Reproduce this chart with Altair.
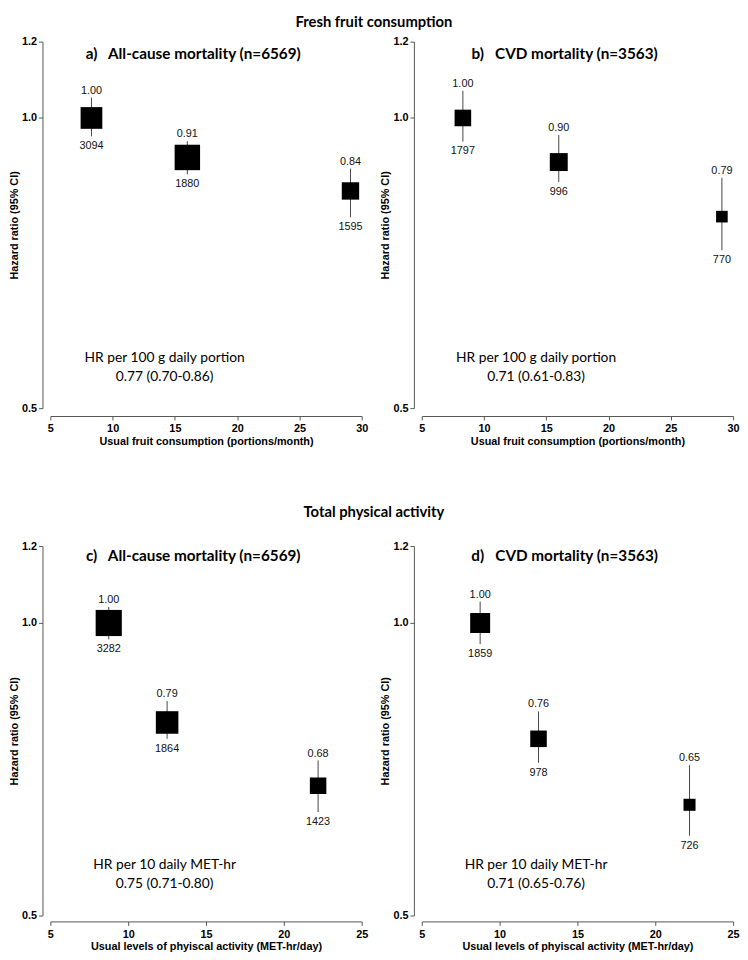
import altair as alt
import pandas as pd

# ---------------- data ----------------
fruit_levels = [8.3, 16.0, 29.1]          # usual fruit consumption (portions/month)
activity_levels = [8.75, 12.5, 22.2]      # usual physical activity (MET-hr/day)

hr_a = [1.00, 0.91, 0.84]
lo_a = [0.957, 0.874, 0.789]
hi_a = [1.050, 0.946, 0.886]
deaths_a = [3094, 1880, 1595]

hr_b = [1.00, 0.90, 0.79]
lo_b = [0.945, 0.858, 0.729]
hi_b = [1.067, 0.960, 0.867]
deaths_b = [1797, 996, 770]

hr_c = [1.00, 0.79, 0.68]
lo_c = [0.962, 0.760, 0.639]
hi_c = [1.039, 0.831, 0.722]
deaths_c = [3282, 1864, 1423]

hr_d = [1.00, 0.76, 0.65]
lo_d = [0.951, 0.718, 0.604]
hi_d = [1.052, 0.811, 0.714]
deaths_d = [1859, 978, 726]

y_ticks = [0.5, 1.0, 1.2]
fruit_ticks = [5, 10, 15, 20, 25, 30]
activity_ticks = [5, 10, 15, 20, 25]

NB = "\u00a0"
row_titles = ["Fresh fruit consumption", "Total physical activity"]
panel_titles = ["a)" + NB * 3 + "All-cause mortality (n=6569)",
                "b)" + NB * 3 + "CVD mortality (n=3563)",
                "c)" + NB * 3 + "All-cause mortality (n=6569)",
                "d)" + NB * 3 + "CVD mortality (n=3563)"]
x_titles = ["Usual fruit consumption (portions/month)",
            "Usual levels of phyiscal activity (MET-hr/day)"]
trend_a = ["HR per 100 g daily portion", "0.77 (0.70-0.86)"]
trend_b = ["HR per 100 g daily portion", "0.71 (0.61-0.83)"]
trend_c = ["HR per 10 daily MET-hr", "0.75 (0.71-0.80)"]
trend_d = ["HR per 10 daily MET-hr", "0.71 (0.65-0.76)"]

# ---------------- style ----------------
LAB = "Liberation Sans"
HEAD = "Lato"
GREY = "#555555"
W = 316


def panel(xs, hr, lo, hi, deaths, ticks, xtitle, head, trend, height, xoff, head_y):
    df = pd.DataFrame({"x": xs, "hr": hr, "lo": lo, "hi": hi, "deaths": deaths})
    xsc = alt.Scale(domain=[ticks[0], ticks[-1]], nice=False, zero=False)
    ysc = alt.Scale(type="log", domain=[0.5, 1.2], nice=False)
    xaxis = alt.Axis(values=ticks, title=xtitle, offset=xoff, tickSize=4, grid=False,
                     domainColor=GREY, tickColor=GREY, labelFont=LAB, labelFontSize=11,
                     labelFontWeight="bold", labelColor="black", labelPadding=3,
                     labelFlush=False, labelOverlap=False,
                     titleFont=LAB, titleFontSize=11, titleFontWeight="bold",
                     titleColor="black", titlePadding=2)
    yaxis = alt.Axis(values=y_ticks, format=".1f", title="Hazard ratio (95% CI)", offset=8,
                     tickSize=4, grid=False, domainColor=GREY, tickColor=GREY,
                     labelFont=LAB, labelFontSize=11, labelFontWeight="bold",
                     labelColor="black", labelPadding=2, labelFlush=False, labelOverlap=False,
                     titleFont=LAB, titleFontSize=11, titleFontWeight="bold",
                     titleColor="black", titlePadding=2)
    base = alt.Chart(df).transform_calculate(
        w="pow(3.92 / log(datum.hi / datum.lo), 2)")
    X = alt.X("x:Q", scale=xsc, axis=xaxis)
    whisk = base.mark_rule(color="#444444", strokeWidth=1).encode(
        x=X, y=alt.Y("lo:Q", scale=ysc, axis=yaxis), y2="hi:Q")
    box = base.mark_square(color="black", opacity=1).encode(
        x=X, y=alt.Y("hr:Q", scale=ysc, axis=yaxis),
        size=alt.Size("w:Q", scale=alt.Scale(domain=[0, 1000], range=[0, 272]), legend=None))
    hr_lab = base.mark_text(dy=-7, fontSize=11, font=LAB, color="#111111").encode(
        x=X, y=alt.Y("hi:Q", scale=ysc, axis=yaxis), text=alt.Text("hr:Q", format=".2f"))
    n_lab = base.mark_text(dy=10, fontSize=11, font=LAB, color="#111111").encode(
        x=X, y=alt.Y("lo:Q", scale=ysc, axis=yaxis), text=alt.Text("deaths:Q", format="d"))
    head_txt = alt.Chart(pd.DataFrame({"t": [head]})).mark_text(
        font=HEAD, fontSize=15.5, fontWeight="bold", align="center", baseline="middle",
        color="black").encode(text="t:N", x=alt.value(W / 2 - 13), y=alt.value(head_y))
    t1 = alt.Chart(pd.DataFrame({"t": [trend[0]]})).mark_text(
        font=HEAD, fontSize=14, align="center", baseline="middle", color="black").encode(
        text="t:N", x=alt.value(116), y=alt.value(height - 51))
    t2 = alt.Chart(pd.DataFrame({"t": [trend[1]]})).mark_text(
        font=HEAD, fontSize=14, align="center", baseline="middle", color="black").encode(
        text="t:N", x=alt.value(116), y=alt.value(height - 32))
    return alt.layer(whisk, box, hr_lab, n_lab, head_txt, t1, t2).properties(
        width=W, height=height)


pa = panel(fruit_levels, hr_a, lo_a, hi_a, deaths_a, fruit_ticks, x_titles[0],
           panel_titles[0], trend_a, 372, 8, 13)
pb = panel(fruit_levels, hr_b, lo_b, hi_b, deaths_b, fruit_ticks, x_titles[0],
           panel_titles[1], trend_b, 372, 8, 13)
pc = panel(activity_levels, hr_c, lo_c, hi_c, deaths_c, activity_ticks, x_titles[1],
           panel_titles[2], trend_c, 375, 6, 10)
pd_ = panel(activity_levels, hr_d, lo_d, hi_d, deaths_d, activity_ticks, x_titles[1],
            panel_titles[3], trend_d, 375, 6, 10)

row1 = alt.hconcat(pa, pb, spacing=11, title=alt.TitleParams(
    row_titles[0], anchor="middle", font=HEAD, fontSize=15, fontWeight="bold",
    color="black", offset=6))
row2 = alt.hconcat(pc, pd_, spacing=11, title=alt.TitleParams(
    row_titles[1], anchor="middle", font=HEAD, fontSize=15, fontWeight="bold",
    color="black", offset=20))

chart = alt.vconcat(row1, row2, spacing=60).configure_view(stroke=None).properties(padding=0)

chart.save("out.html", embed_options={"renderer": "svg", "actions": False})
